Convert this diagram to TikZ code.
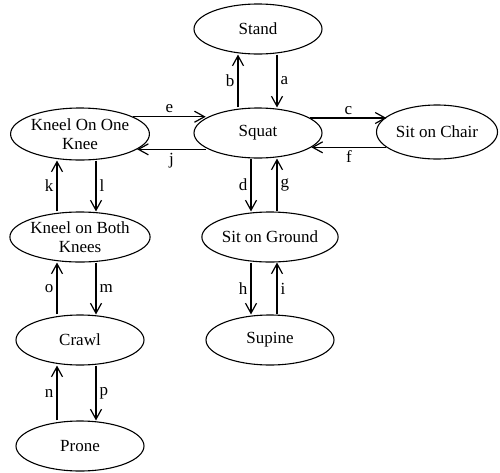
\documentclass[tikz,border=0pt]{standalone}
\usepackage{fontspec}
\setmainfont{Liberation Serif}
\usetikzlibrary{shapes.geometric,arrows.meta}

\tikzset{
    state/.style={
        draw,
        ellipse,
        line width=1.1pt,
        inner sep=0pt,
        minimum width=128pt,
        minimum height=50pt,
        align=center,
        font=\fontsize{17}{19}\selectfont
    },
    move/.style={
        line width=1.3pt,
        -{Straight Barb[length=10pt,width=11pt,line width=1.2pt]}
    },
    lbl/.style={font=\fontsize{17}{19}\selectfont, inner sep=3pt}
}

\begin{document}
\begin{tikzpicture}[x=1pt,y=-1pt]
\useasboundingbox (0,0) rectangle (500,472);

% postures
\node[state] (stand) at (258,29) {Stand};
\node[state] (squat) at (258,133) {Squat};
\node[state, minimum width=121pt, minimum height=54pt] (chair) at (437,132) {Sit on Chair};
\node[state, minimum height=52pt] (kneelone) at (80,134) {Kneel On One\\Knee};
\node[state] (kneelboth) at (80,237) {Kneel on Both\\Knees};
\node[state] (crawl) at (80,340) {Crawl};
\node[state] (prone) at (80,446) {Prone};
\node[state] (ground) at (270,237) {Sit on Ground};
\node[state] (supine) at (270,340) {Supine};

% stand <-> squat
\draw[move] ([xshift=-20pt]squat.north) -- ([xshift=-20pt]squat.north |- stand.south)
    node[lbl, left, pos=0.5] {b};
\draw[move] ([xshift=19pt]squat.north |- stand.south) -- ([xshift=19pt]squat.north)
    node[lbl, right, pos=0.5] {a};

% squat <-> sit on chair
\draw[move] (squat.16) -- (squat.16 -| chair.163)
    node[lbl, above, pos=0.5] {c};
\draw[move] (squat.-15 -| chair.-163) -- (squat.-15)
    node[lbl, below, pos=0.5] {f};

% kneel on one knee <-> squat
\draw[move] (kneelone.18) -- (kneelone.18 -| squat.164)
    node[lbl, above, pos=0.5] {e};
\draw[move] (kneelone.-15 -| squat.-164) -- (kneelone.-15)
    node[lbl, below, pos=0.5] {j};

% squat <-> sit on ground
\draw[move] ([xshift=-7pt]squat.south) -- ([xshift=-7pt]squat.south |- ground.north)
    node[lbl, left, pos=0.5] {d};
\draw[move] ([xshift=19pt]squat.south |- ground.north) -- ([xshift=19pt]squat.south)
    node[lbl, right, pos=0.5] {g};

% sit on ground <-> supine
\draw[move] ([xshift=-19pt]ground.south) -- ([xshift=-19pt]ground.south |- supine.north)
    node[lbl, left, pos=0.5] {h};
\draw[move] ([xshift=7pt]ground.south |- supine.north) -- ([xshift=7pt]ground.south)
    node[lbl, right, pos=0.5] {i};

% left column
\draw[move] ([xshift=-23pt]kneelboth.north) -- ([xshift=-23pt]kneelboth.north |- kneelone.south)
    node[lbl, left, pos=0.5] {k};
\draw[move] ([xshift=16pt]kneelboth.north |- kneelone.south) -- ([xshift=16pt]kneelboth.north)
    node[lbl, right, pos=0.5] {l};
\draw[move] ([xshift=-23pt]crawl.north) -- ([xshift=-23pt]crawl.north |- kneelboth.south)
    node[lbl, left, pos=0.5] {o};
\draw[move] ([xshift=16pt]crawl.north |- kneelboth.south) -- ([xshift=16pt]crawl.north)
    node[lbl, right, pos=0.5] {m};
\draw[move] ([xshift=-23pt]prone.north) -- ([xshift=-23pt]prone.north |- crawl.south)
    node[lbl, left, pos=0.5] {n};
\draw[move] ([xshift=16pt]prone.north |- crawl.south) -- ([xshift=16pt]prone.north)
    node[lbl, right, pos=0.5] {p};

\end{tikzpicture}
\end{document}
